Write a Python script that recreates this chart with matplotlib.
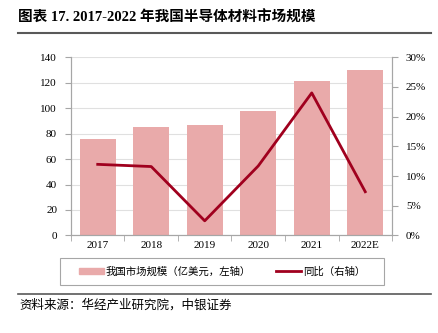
import matplotlib.pyplot as plt
from matplotlib.lines import Line2D
from matplotlib.patches import Rectangle

plt.rcParams['font.family'] = ['Liberation Serif', 'Noto Sans CJK SC']

years = ['2017', '2018', '2019', '2020', '2021', '2022E']
market_size = [76.1, 85.3, 87.1, 97.6, 121.1, 130.0]  # 亿美元
yoy = [11.97, 11.6, 2.46, 11.7, 24.0, 7.36]  # %

bar_color = '#E9AAAA'
line_color = '#A0001E'
grey = '#A6A6A6'

fig = plt.figure(figsize=(4.38, 3.33), dpi=100)
ax = fig.add_axes([0.162, 0.293, 0.733, 0.535])
ax2 = ax.twinx()

x = list(range(len(years)))
ax.bar(x, market_size, width=0.67, color=bar_color, zorder=2)
ax2.plot(x, yoy, color=line_color, lw=2, zorder=3)

ax.set_xlim(-0.5, 5.5)
ax.set_ylim(0, 140)
ax.set_yticks(range(0, 141, 20))
ax.grid(axis='y', color='#E0E0E0', lw=0.8, zorder=0)
ax2.set_ylim(0, 30)
ax2.set_yticks(range(0, 31, 5))
ax2.set_yticklabels([f'{v}%' for v in range(0, 31, 5)])

ax.set_xticks(x)
ax.set_xticklabels(years)
ax.set_xticks([i + 0.5 for i in range(-1, 6)], minor=True)
ax.tick_params(axis='x', which='major', length=0, labelsize=8, pad=4)
ax.tick_params(axis='x', which='minor', length=4, color=grey, direction='out')
ax.tick_params(axis='y', length=4, color=grey, labelsize=8, pad=6)
ax2.tick_params(axis='y', length=4, color=grey, labelsize=8, pad=6)

for a in (ax, ax2):
    a.spines['top'].set_visible(False)
    for s in ('left', 'right', 'bottom'):
        a.spines[s].set_color(grey)
        a.spines[s].set_linewidth(0.8)

# title + rules
fig.text(0.041, 0.948, '图表 17. 2017-2022 年我国半导体材料市场规模',
         fontsize=10.5, fontweight='bold', va='center', ha='left')
fig.add_artist(Line2D([0.041, 0.985], [0.900, 0.900], color='#595959', lw=1.5))
fig.add_artist(Line2D([0.041, 0.985], [0.117, 0.117], color='#595959', lw=1.2))
fig.text(0.045, 0.084, '资料来源：华经产业研究院，中银证券', fontsize=9,
         style='italic', va='center', ha='left')

# legend with its own frame box
fig.add_artist(Rectangle((0.137, 0.144), 0.740, 0.082, transform=fig.transFigure,
                         fill=False, edgecolor=grey, lw=0.8))
handles = [plt.Rectangle((0, 0), 1, 1, color=bar_color),
           Line2D([0], [0], color=line_color, lw=2)]
leg = fig.legend(handles, ['我国市场规模（亿美元，左轴）', '同比（右轴）'],
                 loc='center', bbox_to_anchor=(0.507, 0.185), ncol=2,
                 fontsize=7.5, frameon=False, handlelength=2.4,
                 handleheight=0.6, columnspacing=2.4, borderaxespad=0,
                 handletextpad=0.2)

fig.savefig('out.png', dpi=100)
